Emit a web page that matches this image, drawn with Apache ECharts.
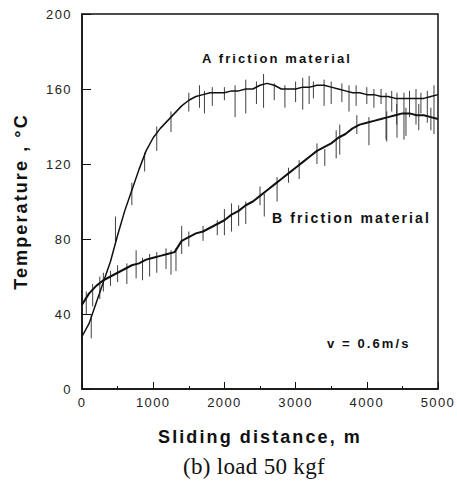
<!DOCTYPE html>
<html>
<head>
<meta charset="utf-8">
<script src="https://cdn.jsdelivr.net/npm/echarts@6/dist/echarts.min.js"></script>
<style>
  html, body { margin: 0; padding: 0; background: #fff; }
  #chart { width: 457px; height: 486px; }
  /* typewriter-like tracking of the labels */
  #chart svg text { letter-spacing: 1.4px; }
  #chart svg text[style*="bold"], #chart svg text[font-weight="bold"] { letter-spacing: 2.1px; }
  #chart svg text[style*="Serif"] { letter-spacing: 0.3px; }
</style>
</head>
<body>
<div id="chart"></div>
<script>
// Sliding distance (m) at which the temperature traces are sampled
const distance = [0, 100, 200, 300, 400, 500, 600, 700, 800, 900,
  1000, 1100, 1200, 1300, 1400, 1500, 1600, 1700, 1800, 1900,
  2000, 2100, 2200, 2300, 2400, 2500, 2600, 2700, 2800, 2900,
  3000, 3100, 3200, 3300, 3400, 3500, 3600, 3700, 3800, 3900,
  4000, 4100, 4200, 4300, 4400, 4500, 4600, 4700, 4800, 4900, 5000];

// A friction material, temperature in °C
const tempA = [28, 35, 46, 57, 68, 82, 95, 106, 117, 127,
  134, 139, 143, 147, 151, 154, 156, 157, 158, 158,
  158, 159, 159, 160, 160, 162, 163, 162, 160, 160,
  160, 161, 161, 162, 162, 161, 160, 159, 158, 158,
  157, 157, 156, 156, 155, 155, 155, 155, 155, 156, 157];

// B friction material, temperature in °C
const tempB = [45, 51, 55, 58, 60, 62, 64, 66, 67, 69,
  70, 71, 72, 73, 79, 81, 83, 84, 86, 88,
  90, 93, 95, 98, 100, 103, 106, 109, 112, 115,
  118, 121, 124, 127, 129, 131, 134, 136, 139, 141,
  142, 143, 144, 145, 146, 147, 147, 146, 146, 145, 144];

// Short-lived fluctuations of the thermocouple signal: distance, low, high
const spikeADist = [130, 470, 700, 880, 1050, 1250, 1500, 1650, 1720, 1830,
  2000, 2150, 2300, 2450, 2550, 2700, 2850, 3000, 3100, 3190,
  3250, 3400, 3500, 3650, 3750, 3850, 4000, 4100, 4200, 4270,
  4350, 4424, 4522, 4600, 4691, 4760, 4850, 4944];
const spikeALow = [27, 78, 98, 116, 127, 137, 148, 150, 147, 151,
  154, 145, 147, 152, 150, 154, 150, 153, 149, 152,
  155, 151, 152, 153, 148, 151, 152, 150, 152, 133,
  148, 134, 133, 145, 141, 147, 142, 136];
const spikeAHigh = [40, 92, 110, 126, 140, 148, 158, 162, 159, 161,
  161, 162, 165, 164, 168, 163, 162, 164, 166, 167,
  164, 165, 164, 163, 162, 162, 161, 160, 160, 158,
  159, 158, 158, 159, 160, 158, 159, 162];

const spikeBDist = [60, 150, 250, 300, 400, 500, 630, 760, 850, 950,
  1050, 1180, 1250, 1320, 1400, 1500, 1700, 1900, 2000, 2100,
  2200, 2300, 2500, 2560, 2740, 2900, 3050, 3300, 3410, 3570,
  3620, 3860, 4030, 4280, 4420, 4550, 4730, 4900];
const spikeBLow = [40, 44, 48, 52, 55, 57, 56, 59, 58, 60,
  62, 64, 61, 63, 72, 76, 79, 82, 82, 84,
  87, 88, 98, 92, 100, 110, 112, 120, 119, 123,
  125, 136, 130, 132, 141, 135, 138, 138];
const spikeBHigh = [52, 56, 60, 62, 63, 66, 67, 74, 70, 72,
  73, 75, 74, 75, 87, 84, 87, 90, 96, 99,
  98, 100, 108, 104, 113, 118, 122, 131, 128, 138,
  141, 146, 145, 148, 152, 150, 152, 150];

// Axis tick values
const xTicks = [0, 1000, 2000, 3000, 4000, 5000];
const yTicks = [0, 40, 80, 120, 160, 200];

const pairs = (xs, ys) => xs.map((x, i) => [x, ys[i]]);
const triples = (xs, lo, hi) => xs.map((x, i) => [x, lo[i], hi[i]]);

function renderSpike(params, api) {
  const a = api.coord([api.value(0), api.value(1)]);
  const b = api.coord([api.value(0), api.value(2)]);
  return {
    type: 'line',
    shape: { x1: a[0], y1: a[1], x2: b[0], y2: b[1] },
    style: { stroke: '#2a2a2a', lineWidth: 0.9 }
  };
}

const sans = '"Liberation Sans", Arial, sans-serif';

const chart = echarts.init(document.getElementById('chart'), null, { renderer: 'svg' });
chart.setOption({
  animation: false,
  backgroundColor: '#fff',
  grid: {
    left: 82, right: 19, top: 14, bottom: 97,
    show: true, borderColor: '#111', borderWidth: 1.5, backgroundColor: 'transparent'
  },
  xAxis: {
    type: 'value',
    min: xTicks[0], max: xTicks[xTicks.length - 1], interval: 1000,
    name: 'Sliding distance, m',
    nameLocation: 'middle', nameGap: 39,
    nameTextStyle: { fontFamily: sans, fontWeight: 'bold', fontSize: 18, color: '#111' },
    axisLine: { lineStyle: { color: '#111', width: 1.5 } },
    axisTick: { inside: true, length: 7, lineStyle: { color: '#111' } },
    minorTick: { show: true, splitNumber: 2, length: 3, lineStyle: { color: '#111' } },
    axisLabel: { margin: 7, fontFamily: sans, fontSize: 13, color: '#222', formatter: v => String(v) },
    splitLine: { show: false }
  },
  yAxis: {
    type: 'value',
    min: yTicks[0], max: yTicks[yTicks.length - 1], interval: 40,
    name: 'Temperature , °C',
    nameLocation: 'middle', nameGap: 52,
    nameTextStyle: { fontFamily: sans, fontWeight: 'bold', fontSize: 18, color: '#111' },
    axisLine: { show: true, lineStyle: { color: '#111', width: 1.5 } },
    axisTick: { show: true, inside: true, length: 9, lineStyle: { color: '#111' } },
    axisLabel: { margin: 10, fontFamily: sans, fontSize: 13, color: '#222', formatter: v => String(v) },
    splitLine: { show: false }
  },
  series: [
    {
      name: 'A friction material spikes', type: 'custom',
      renderItem: renderSpike, encode: { x: 0, y: [1, 2] },
      data: triples(spikeADist, spikeALow, spikeAHigh), silent: true
    },
    {
      name: 'B friction material spikes', type: 'custom',
      renderItem: renderSpike, encode: { x: 0, y: [1, 2] },
      data: triples(spikeBDist, spikeBLow, spikeBHigh), silent: true
    },
    {
      name: 'A friction material', type: 'line',
      data: pairs(distance, tempA), showSymbol: false, smooth: false,
      lineStyle: { color: '#111', width: 1.5 }, silent: true
    },
    {
      name: 'B friction material', type: 'line',
      data: pairs(distance, tempB), showSymbol: false, smooth: false,
      lineStyle: { color: '#111', width: 2 }, silent: true
    }
  ],
  graphic: [
    { type: 'text', x: 202, y: 58, style: { text: 'A friction material', font: 'bold 13px ' + sans, fill: '#111', textVerticalAlign: 'middle' } },
    { type: 'text', x: 272, y: 218, style: { text: 'B friction material', font: 'bold 14px ' + sans, fill: '#111', textVerticalAlign: 'middle' } },
    { type: 'text', x: 327, y: 343, style: { text: 'v = 0.6m/s', font: 'bold 13px ' + sans, fill: '#111', textVerticalAlign: 'middle' } },
    { type: 'text', x: 254, y: 466, style: { text: '(b) load 50 kgf', font: '23px "Liberation Serif", "Times New Roman", serif', fill: '#111', textAlign: 'center', textVerticalAlign: 'middle' } }
  ]
});
</script>
</body>
</html>
